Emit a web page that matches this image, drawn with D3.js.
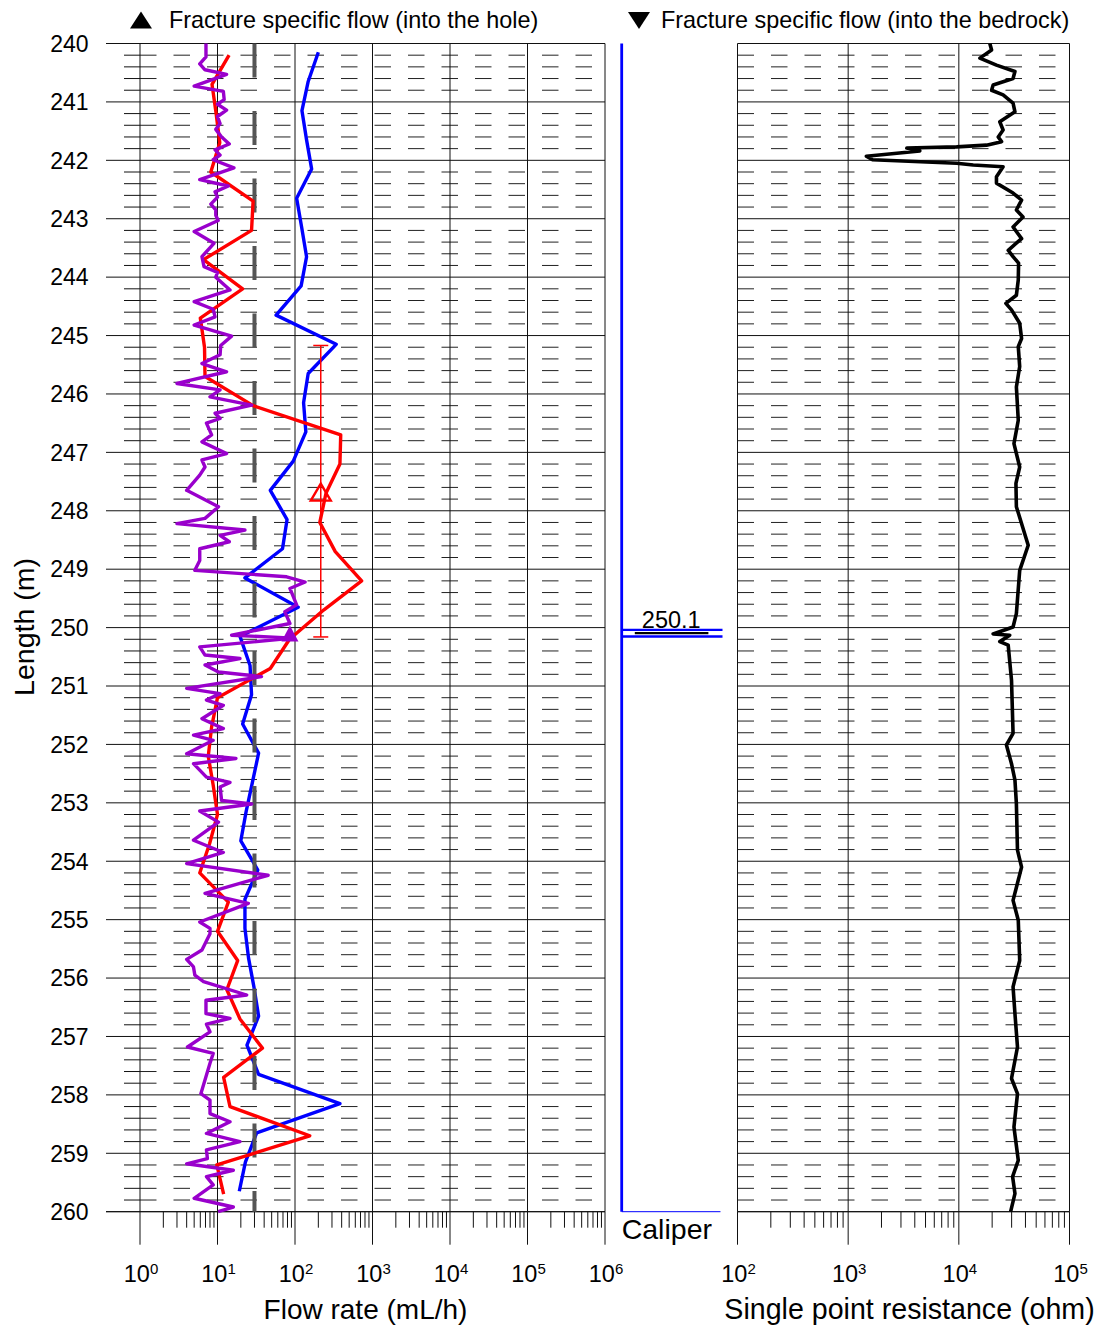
<!DOCTYPE html>
<html>
<head>
<meta charset="utf-8">
<script src="https://cdn.jsdelivr.net/npm/d3@7"></script>
<style>
html,body{margin:0;padding:0;background:#fff;}
svg{display:block;font-family:"Liberation Sans",Arial,Helvetica,sans-serif;}
</style>
</head>
<body>
<svg id="chart" width="1101" height="1329"></svg>
<script>
// ---------------- DATA ----------------
// Flow along 0.5 m sections (blue, mL/h)
const blueDepths = [240.15,240.65,241.15,241.65,242.15,242.65,243.15,243.65,244.15,244.65,
  245.15,245.65,246.15,246.65,247.15,247.65,248.15,248.65,249.15,249.65,
  250.15,250.65,251.15,251.65,252.15,252.65,253.15,253.65,254.15,254.65,
  255.15,255.65,256.15,256.65,257.15,257.65,258.15,258.65,259.15,259.65];
const blueFlow = [200,148,123,141,164,105,122,141,120,57,
  340,148,129,138,95,48,79,69,22.6,110,
  19.5,26.3,27.5,21.1,33.9,28.2,23.4,20,33.1,22.6,
  22.6,25.1,29.5,33.9,24,33.9,380,32,22.9,19.1];

// Red flow series (mL/h)
const redDepths = [240.2,240.7,241.2,241.7,242.2,242.7,243.2,243.7,244.2,244.7,
  245.2,245.7,246.2,246.7,247.2,247.7,248.2,248.7,249.2,249.7,
  250.2,250.7,251.2,251.7,252.2,252.7,253.2,253.7,254.2,254.7,
  255.2,255.7,256.2,256.7,257.2,257.7,258.2,258.7,259.2,259.7];
const redFlow = [14.1,8.5,9.6,10.7,8.2,28.8,27.5,6.6,21.1,6.0,
  6.8,6.9,28.8,389,380,251,209,331,724,234,
  85,48,10,8.4,7.6,8.8,10,7.9,5.9,13.8,
  10,18.2,13.2,19.5,38,12,14.5,155,9.8,12];

// Purple fine-resolution flow series (mL/h)
const purpleDepths = [240.00,240.23,240.35,240.45,240.53,240.73,240.82,240.96,241.04,241.14,
  241.25,241.37,241.47,241.60,241.72,241.82,241.91,241.99,242.13,242.33,
  242.44,242.54,242.63,242.75,242.85,242.94,243.03,243.22,243.42,243.65,
  243.82,243.92,244.00,244.22,244.42,244.55,244.68,244.82,245.01,245.17,
  245.33,245.48,245.62,245.82,245.93,246.05,246.19,246.33,246.42,246.50,
  246.70,246.82,247.02,247.13,247.25,247.39,247.65,247.93,248.13,248.22,
  248.33,248.42,248.53,248.65,248.85,249.02,249.13,249.22,249.33,249.61,
  249.73,249.93,250.13,250.18,250.33,250.47,250.53,250.64,250.76,250.84,
  251.04,251.13,251.24,251.33,251.56,251.73,251.84,251.93,252.16,252.24,
  252.33,252.56,252.65,252.73,252.96,253.02,253.14,253.33,253.64,253.85,
  254.04,254.24,254.55,254.72,255.04,255.15,255.24,255.52,255.68,255.81,
  255.95,256.06,256.29,256.38,256.61,256.69,256.79,256.92,257.18,257.29,
  257.46,257.98,258.09,258.32,258.46,258.66,258.80,258.94,259.09,259.18,
  259.29,259.40,259.54,259.77,259.92,260.00];
const purpleFlow = [7.1,7.1,5.9,6.9,13.1,5.0,11.9,12.2,10.0,13.1,
  10.0,10.8,9.5,11.3,14.2,9.3,10.8,8.8,16.3,5.9,
  13.8,9.3,10.0,8.2,9.5,9.5,10.2,5.0,9.0,6.3,
  6.7,10.0,9.5,14.5,5.0,8.8,9.3,5.0,15.2,11.0,
  10.8,6.3,13.1,3.0,10.8,8.0,27.6,9.3,10.8,7.2,
  8.4,6.3,13.1,6.3,6.9,5.9,4.0,10.3,6.9,3.0,
  22.6,10.8,14.2,5.9,5.9,5.1,78,135,86,105,
  74,86,15.2,95,5.9,6.9,19.5,6.9,10.3,37,
  4.0,10.8,7.2,11.9,6.3,11.9,4.9,8.8,4.0,17.3,
  4.9,7.2,14.5,10.8,11.3,27.6,5.9,10.3,4.9,11.9,
  4.0,45,6.9,25,5.9,8.0,8.0,6.3,4.0,4.9,
  5.1,6.6,23.8,7.1,7.1,14.5,7.2,8.0,4.1,8.8,
  8.0,6.1,8.0,8.0,14.5,7.2,19.5,7.2,7.4,4.0,
  16.0,7.2,8.8,5.0,16.0,10.2];

// Fracture markers
const fractureHoleDepths = [250.1];   // filled ▲ (into the hole)
const fractureHoleFlow = [86];
const openMarkerDepths = [247.68];    // open red triangle with range bar
const openMarkerFlow = [215];
const openMarkerTop = [245.17];
const openMarkerBottom = [250.16];
const limitFlow = [30];               // grey dashed lower limit line

// Caliper
const caliperAnomalyDepths = [250.1];
const caliperAnomalyLabels = ["250.1"];

// Single point resistance (ohm)
const resDepths = [240.00,240.11,240.25,240.37,240.48,240.60,240.71,240.80,240.88,241.02,
  241.17,241.34,241.48,241.60,241.68,241.74,241.77,241.79,241.84,241.93,
  241.99,242.05,242.08,242.11,242.28,242.39,242.56,242.68,242.85,242.97,
  243.14,243.34,243.54,243.65,243.76,244.05,244.31,244.45,244.56,244.79,
  245.05,245.19,245.53,245.88,246.45,246.85,247.25,247.53,247.93,248.59,
  249.02,249.76,249.99,250.11,250.13,250.24,250.30,250.90,251.81,252.01,
  252.33,252.61,253.01,253.81,254.10,254.67,255.01,255.70,256.15,256.61,
  257.18,257.72,257.98,258.55,259.12,259.40,259.69,260.00];
const resValues = [19055,19770,15490,21880,32140,30900,20420,19770,25120,30900,
  32140,23440,25120,22700,24320,17780,9550,3390,4440,1460,
  1660,9550,13490,25120,21880,21880,30900,36900,33110,38020,
  30900,36900,27930,30900,34670,34440,33110,26610,29920,35480,
  36900,34440,35480,33110,34440,31480,35480,32810,33110,42360,
  35480,33110,30900,20420,28840,23440,27930,29920,30900,26920,
  29920,32140,33110,33880,36900,30900,34440,35480,30900,32140,
  33880,29920,33880,31480,34440,30620,32140,29380];

// Axis ticks / labels
const depthTicks = [240,241,242,243,244,245,246,247,248,249,250,251,252,253,254,255,256,257,258,259,260];
const flowDecades = [0,1,2,3,4,5,6];
const resDecades = [2,3,4,5];

// ---------------- LAYOUT ----------------
const svg = d3.select("#chart");
const y = d3.scaleLinear().domain([240, 260]).range([43.5, 1211.7]);
const xFlow = d3.scaleLog().domain([1, 1e6]).range([140, 605]);
const xRes = d3.scaleLog().domain([1e2, 1e5]).range([737.5, 1069.5]);
const xCal = d3.scaleLinear().domain([0, 1]).range([621.7, 722.5]);

const minorDepths = [];
depthTicks.slice(0, -1).forEach(d => { for (let k = 1; k < 5; k++) minorDepths.push(d + k * 0.2); });

function grid(g, xs, x0, x1) {
  g.selectAll(".mn").data(minorDepths).join("line")
    .attr("x1", x0).attr("x2", x1).attr("y1", d => y(d)).attr("y2", d => y(d))
    .attr("stroke", "#222").attr("stroke-width", 1).attr("stroke-dasharray", "16.5,17");
  g.selectAll(".mj").data(depthTicks).join("line")
    .attr("x1", x0).attr("x2", x1).attr("y1", d => y(d)).attr("y2", d => y(d))
    .attr("stroke", "#111").attr("stroke-width", 1);
  g.selectAll(".vd").data(xs).join("line")
    .attr("x1", d => d).attr("x2", d => d).attr("y1", y(240)).attr("y2", y(260))
    .attr("stroke", "#111").attr("stroke-width", 1);
}

function bottomAxis(g, scale, decades, x0) {
  const ax = g.append("g");
  const yb = y(260);
  ax.append("line").attr("x1", x0).attr("x2", scale(Math.pow(10, decades[decades.length - 1])))
    .attr("y1", yb).attr("y2", yb).attr("stroke", "#111");
  decades.forEach((k, i) => {
    const v = Math.pow(10, k);
    ax.append("line").attr("x1", scale(v)).attr("x2", scale(v)).attr("y1", yb).attr("y2", yb + 33)
      .attr("stroke", "#111");
    if (i < decades.length - 1) {
      for (let m = 2; m <= 9; m++) {
        const xv = scale(m * v);
        ax.append("line").attr("x1", xv).attr("x2", xv).attr("y1", yb).attr("y2", yb + 16)
          .attr("stroke", "#111");
      }
    }
    const t = ax.append("text").attr("x", scale(v) + 1).attr("y", 1282)
      .attr("text-anchor", "middle").attr("font-size", 23.5).attr("fill", "#000");
    t.append("tspan").text("10");
    t.append("tspan").attr("dy", -8.5).attr("font-size", 15).text(String(k));
  });
}

// ---- left panel grid
const gL = svg.append("g");
grid(gL, flowDecades.map(k => xFlow(Math.pow(10, k))), xFlow(1), xFlow(1e6));
gL.selectAll(".tkM").data(depthTicks).join("line")
  .attr("x1", 106).attr("x2", xFlow(1)).attr("y1", d => y(d)).attr("y2", d => y(d)).attr("stroke", "#111");
gL.selectAll(".tkm").data(minorDepths).join("line")
  .attr("x1", 124).attr("x2", xFlow(1)).attr("y1", d => y(d)).attr("y2", d => y(d)).attr("stroke", "#111");
gL.selectAll(".tl").data(depthTicks).join("text")
  .attr("x", 88.5).attr("y", d => y(d)).attr("dy", "0.36em").attr("text-anchor", "end")
  .attr("font-size", 23).text(d => d);
bottomAxis(gL, xFlow, flowDecades, 106);

// ---- right panel grid
const gR = svg.append("g");
grid(gR, resDecades.map(k => xRes(Math.pow(10, k))), xRes(1e2), xRes(1e5));
bottomAxis(gR, xRes, resDecades, xRes(1e2));

// ---- flow curves
const pts = (ds, vs) => ds.map((d, i) => ({ d: d, v: vs[i] }));
const lineF = d3.line().x(p => xFlow(p.v)).y(p => y(p.d));

svg.append("path").datum(pts(blueDepths, blueFlow)).attr("d", lineF)
  .attr("fill", "none").attr("stroke", "#0000ff").attr("stroke-width", 3.4).attr("stroke-linejoin", "round");

svg.selectAll(".lim").data(limitFlow).join("line")
  .attr("x1", d => xFlow(d)).attr("x2", d => xFlow(d)).attr("y1", y(240)).attr("y2", y(260))
  .attr("stroke", "#555").attr("stroke-width", 4).attr("stroke-dasharray", "34,33.5");

svg.append("path").datum(pts(redDepths, redFlow)).attr("d", lineF)
  .attr("fill", "none").attr("stroke", "#ff0000").attr("stroke-width", 3.4).attr("stroke-linejoin", "round");

svg.append("path").datum(pts(purpleDepths, purpleFlow)).attr("d", lineF)
  .attr("fill", "none").attr("stroke", "#9900cc").attr("stroke-width", 3.4).attr("stroke-linejoin", "round");

function tri(cx, cy, w, h, up) {
  return up
    ? `M${cx - w / 2},${cy + h / 2}L${cx},${cy - h / 2}L${cx + w / 2},${cy + h / 2}Z`
    : `M${cx - w / 2},${cy - h / 2}L${cx},${cy + h / 2}L${cx + w / 2},${cy - h / 2}Z`;
}

openMarkerDepths.forEach((d, i) => {
  const xv = xFlow(openMarkerFlow[i]);
  svg.append("line").attr("x1", xv).attr("x2", xv).attr("y1", y(openMarkerTop[i])).attr("y2", y(openMarkerBottom[i]))
    .attr("stroke", "#ff0000").attr("stroke-width", 1.5);
  [openMarkerTop[i], openMarkerBottom[i]].forEach(e => {
    svg.append("line").attr("x1", xv - 7.5).attr("x2", xv + 7.5).attr("y1", y(e)).attr("y2", y(e))
      .attr("stroke", "#ff0000").attr("stroke-width", 1.5);
  });
  svg.append("path").attr("d", tri(xv, y(d), 20, 17, true))
    .attr("fill", "none").attr("stroke", "#ff0000").attr("stroke-width", 2.4);
});

fractureHoleDepths.forEach((d, i) => {
  svg.append("path").attr("d", tri(xFlow(fractureHoleFlow[i]), y(d), 17, 16, true)).attr("fill", "#9900cc");
});

// ---- caliper
svg.append("line").attr("x1", xCal(0)).attr("x2", xCal(0)).attr("y1", y(240)).attr("y2", y(260))
  .attr("stroke", "#0000ff").attr("stroke-width", 2.8);
svg.append("line").attr("x1", xCal(0)).attr("x2", xCal(0.98)).attr("y1", y(260)).attr("y2", y(260))
  .attr("stroke", "#0000ff").attr("stroke-width", 1);
caliperAnomalyDepths.forEach((d, i) => {
  const yc = y(d);
  svg.append("text").attr("x", xCal(0.2)).attr("y", yc - 5).attr("font-size", 23.5)
    .text(caliperAnomalyLabels[i]);
  svg.append("line").attr("x1", xCal(0)).attr("x2", xCal(1)).attr("y1", yc - 3.6).attr("y2", yc - 3.6)
    .attr("stroke", "#0000ff").attr("stroke-width", 2.4);
  svg.append("line").attr("x1", xCal(0)).attr("x2", xCal(1)).attr("y1", yc + 3.0).attr("y2", yc + 3.0)
    .attr("stroke", "#0000ff").attr("stroke-width", 2.4);
  svg.append("line").attr("x1", xCal(0.13)).attr("x2", xCal(0.86)).attr("y1", yc - 0.4).attr("y2", yc - 0.4)
    .attr("stroke", "#000").attr("stroke-width", 2.2);
});
svg.append("text").attr("x", xCal(0)).attr("y", 1239).attr("font-size", 28.5).text("Caliper");

// ---- resistance curve
svg.append("path").datum(pts(resDepths, resValues))
  .attr("d", d3.line().x(p => xRes(p.v)).y(p => y(p.d)))
  .attr("fill", "none").attr("stroke", "#000").attr("stroke-width", 3.6).attr("stroke-linejoin", "round");

// ---- titles / legends
svg.append("path").attr("d", tri(141, 20, 22, 17, true)).attr("fill", "#000");
svg.append("text").attr("x", 169).attr("y", 28).attr("font-size", 23.4).text("Fracture specific flow (into the hole)");
svg.append("path").attr("d", tri(639, 20.5, 22, 17, false)).attr("fill", "#000");
svg.append("text").attr("x", 661).attr("y", 28).attr("font-size", 23.4).text("Fracture specific flow (into the bedrock)");

svg.append("text").attr("x", 365.5).attr("y", 1319).attr("text-anchor", "middle").attr("font-size", 28).text("Flow rate (mL/h)");
svg.append("text").attr("x", 909.5).attr("y", 1319).attr("text-anchor", "middle").attr("font-size", 28.6).text("Single point resistance (ohm)");
svg.append("text").attr("transform", "translate(34,627) rotate(-90)").attr("text-anchor", "middle")
  .attr("font-size", 28.5).text("Length (m)");
</script>
</body>
</html>
